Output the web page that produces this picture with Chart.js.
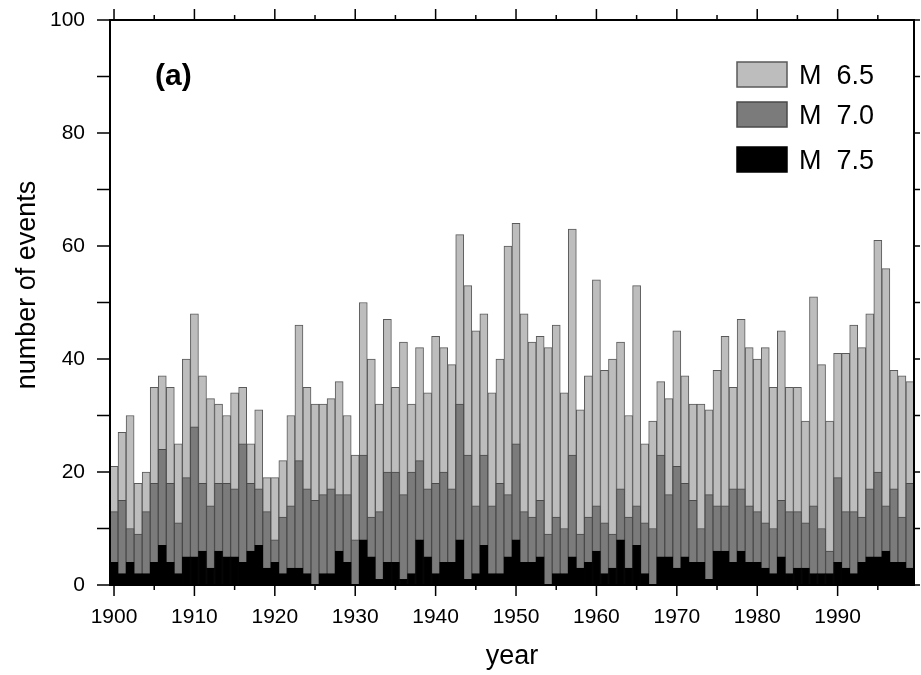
<!DOCTYPE html>
<html>
<head>
<meta charset="utf-8">
<script src="https://cdn.jsdelivr.net/npm/chart.js@4.4.1/dist/chart.umd.min.js"></script>
<style>
  html, body { margin: 0; padding: 0; background: #fff; }
  #wrap { width: 921px; height: 675px; }
</style>
</head>
<body>
<div id="wrap"><canvas id="quakeChart" width="921" height="675"></canvas></div>
<script>
// years 1900..1999, one bar each
const years = Array.from({ length: 100 }, (_, i) => 1900 + i);

// cumulative counts: events of magnitude >= 6.5, >= 7.0, >= 7.5
const m65 = [
  21, 27, 30, 18, 20, 35, 37, 35, 25, 40,
  48, 37, 33, 32, 30, 34, 35, 25, 31, 19,
  19, 22, 30, 46, 35, 32, 32, 33, 36, 30,
  23, 50, 40, 32, 47, 35, 43, 32, 42, 34,
  44, 42, 39, 62, 53, 45, 48, 34, 40, 60,
  64, 48, 43, 44, 42, 46, 34, 63, 31, 37,
  54, 38, 40, 43, 30, 53, 25, 29, 36, 33,
  45, 37, 32, 32, 31, 38, 44, 35, 47, 42,
  40, 42, 35, 45, 35, 35, 29, 51, 39, 29,
  41, 41, 46, 42, 48, 61, 56, 38, 37, 36
];
const m70 = [
  13, 15, 10, 9, 13, 18, 24, 18, 11, 19,
  28, 18, 14, 18, 18, 17, 25, 18, 17, 13,
  8, 12, 14, 22, 17, 15, 16, 17, 16, 16,
  8, 23, 12, 13, 20, 20, 16, 20, 22, 17,
  18, 20, 17, 32, 23, 14, 23, 14, 18, 16,
  25, 13, 12, 15, 9, 12, 10, 23, 9, 12,
  14, 11, 9, 17, 12, 14, 11, 10, 23, 16,
  21, 18, 15, 10, 16, 14, 14, 17, 17, 14,
  13, 11, 10, 15, 13, 13, 11, 14, 10, 6,
  19, 13, 13, 12, 17, 20, 14, 17, 12, 18
];
const m75 = [
  4, 2, 4, 2, 2, 4, 7, 4, 2, 5,
  5, 6, 3, 6, 5, 5, 4, 6, 7, 3,
  4, 2, 3, 3, 2, 0, 2, 2, 6, 4,
  0, 8, 5, 1, 4, 4, 1, 2, 8, 5,
  2, 4, 4, 8, 1, 2, 7, 2, 2, 5,
  8, 4, 4, 5, 0, 2, 2, 5, 3, 4,
  6, 2, 3, 8, 3, 7, 2, 0, 5, 5,
  3, 5, 4, 4, 1, 6, 6, 4, 6, 4,
  4, 3, 2, 5, 2, 3, 3, 2, 2, 2,
  4, 3, 2, 4, 5, 5, 6, 4, 4, 3
];

const xTickLabels = ['1900', '1910', '1920', '1930', '1940', '1950', '1960', '1970', '1980', '1990'];
const yTickLabels = [0, 20, 40, 60, 80, 100];

const FONT = '"Liberation Sans", Arial, Helvetica, sans-serif';

// frame, tick marks, panel tag, legend and y title
const decorations = {
  id: 'decorations',
  afterDraw(chart) {
    const { ctx, chartArea: a, scales: { x, y } } = chart;
    ctx.save();
    ctx.strokeStyle = '#000';
    ctx.lineWidth = 1.5;
    ctx.beginPath();
    chart.data.labels.forEach((yr, i) => {
      if (yr % 5 !== 0) return;
      const px = x.getPixelForValue(i);
      const len = yr % 10 === 0 ? 11 : 5;
      ctx.moveTo(px, a.bottom); ctx.lineTo(px, a.bottom + len);
      ctx.moveTo(px, a.top); ctx.lineTo(px, a.top - len);
    });
    for (let v = 0; v <= 100; v += 10) {
      const py = y.getPixelForValue(v);
      ctx.moveTo(a.left, py); ctx.lineTo(a.left - 13, py);
      ctx.moveTo(a.right, py); ctx.lineTo(a.right + 6, py);
    }
    ctx.stroke();
    ctx.lineWidth = 2;
    ctx.strokeRect(a.left, a.top, a.right - a.left, a.bottom - a.top);

    // (a)
    ctx.fillStyle = '#000';
    ctx.font = 'bold 30px ' + FONT;
    ctx.textBaseline = 'middle';
    ctx.textAlign = 'left';
    ctx.fillText('(a)', 155, 77);

    // legend, top right
    const boxTops = [62, 102, 147];
    const sets = chart.data.datasets.slice().reverse();
    ctx.font = '27px ' + FONT;
    ctx.textBaseline = 'alphabetic';
    sets.forEach((ds, i) => {
      const top = boxTops[i];
      ctx.fillStyle = ds.backgroundColor;
      ctx.fillRect(737, top, 50, 25);
      ctx.lineWidth = 1.5;
      ctx.strokeStyle = ds.borderColor;
      ctx.strokeRect(737, top, 50, 25);
      ctx.fillStyle = '#000';
      ctx.fillText(ds.label, 799, top + 12.5 + 9.5);
    });

    // y title
    ctx.translate(28, 285);
    ctx.rotate(-Math.PI / 2);
    ctx.textAlign = 'center';
    ctx.textBaseline = 'middle';
    ctx.font = '27px ' + FONT;
    ctx.fillText('number of events', 0, 0);
    ctx.restore();
  }
};

const ctx = document.getElementById('quakeChart').getContext('2d');
new Chart(ctx, {
  type: 'bar',
  data: {
    labels: years,
    // drawn back to front: dataset 0 ends up on top
    datasets: [
      { label: 'M  7.5', data: m75, backgroundColor: '#000000', borderColor: '#000000' },
      { label: 'M  7.0', data: m70, backgroundColor: '#7b7b7b', borderColor: '#4a4a4a' },
      { label: 'M  6.5', data: m65, backgroundColor: '#bdbdbd', borderColor: '#5a5a5a' }
    ]
  },
  options: {
    responsive: false,
    animation: false,
    layout: { padding: { left: 0, right: 7, top: 20, bottom: 0 } },
    datasets: {
      bar: {
        grouped: false,
        categoryPercentage: 1.0,
        barPercentage: 1.0,
        borderWidth: 1
      }
    },
    plugins: {
      legend: { display: false },
      tooltip: { enabled: false }
    },
    scales: {
      x: {
        grid: { display: false, drawTicks: false },
        border: { display: false },
        ticks: {
          autoSkip: false,
          maxRotation: 0,
          padding: 20,
          color: '#000',
          font: { family: FONT, size: 21 },
          callback: function (value) {
            const lbl = String(this.getLabelForValue(value));
            return xTickLabels.includes(lbl) ? lbl : '';
          }
        },
        title: {
          display: true,
          text: 'year',
          color: '#000',
          font: { family: FONT, size: 27 },
          padding: { top: 0, bottom: 2 }
        },
        afterFit: (s) => { s.height = 90; s.paddingLeft = 0; s.paddingRight = 0; }
      },
      y: {
        min: 0,
        max: 100,
        grid: { display: false, drawTicks: false },
        border: { display: false },
        ticks: {
          stepSize: 20,
          padding: 25,
          color: '#000',
          font: { family: FONT, size: 21 },
          callback: (v) => (yTickLabels.includes(v) ? String(v) : '')
        },
        afterFit: (s) => { s.width = 110; s.paddingTop = 0; s.paddingBottom = 0; }
      }
    }
  },
  plugins: [decorations]
});
</script>
</body>
</html>
